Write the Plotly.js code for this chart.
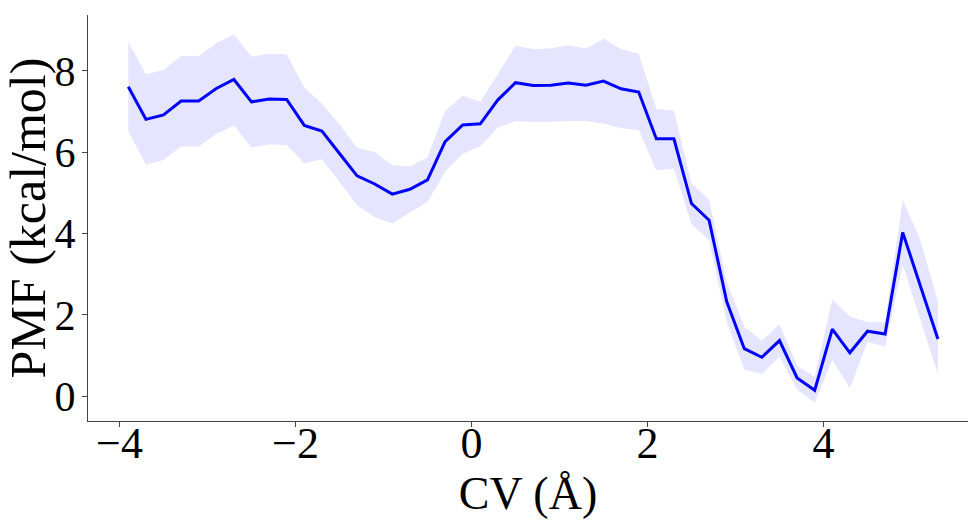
<!DOCTYPE html>
<html>
<head>
<meta charset="utf-8">
<script src="https://cdn.plot.ly/plotly-3.0.1.min.js"></script>
<style>html,body{margin:0;padding:0;background:#fff;}#chart{width:968px;height:522px;}</style>
</head>
<body>
<div id="chart"></div>
<script>
const cv = [-3.9,-3.7,-3.5,-3.3,-3.1,-2.9,-2.7,-2.5,-2.3,-2.1,-1.9,-1.7,-1.5,-1.3,-1.1,-0.9,
  -0.7,-0.5,-0.3,-0.1,0.1,0.3,0.5,0.7,0.9,1.1,1.3,1.5,1.7,1.9,2.1,2.3,2.5,2.7,2.9,3.1,3.3,3.5,3.7,3.9,
  4.1,4.3,4.5,4.7,4.9,5.1,5.3];
const pmf = [7.61,6.81,6.92,7.26,7.26,7.57,7.79,7.24,7.31,7.30,6.66,6.52,5.97,5.42,5.22,4.97,
  5.09,5.32,6.26,6.67,6.70,7.29,7.71,7.64,7.65,7.70,7.65,7.75,7.56,7.48,6.33,6.33,4.74,4.33,2.33,1.17,0.96,1.37,0.45,0.15,
  1.65,1.07,1.60,1.53,4.03,2.74,1.41];
const upper = [8.72,7.92,8.02,8.37,8.37,8.68,8.90,8.35,8.42,8.41,7.59,7.20,6.69,6.11,6.00,5.69,
  5.65,5.88,7.02,7.39,7.24,7.94,8.62,8.54,8.55,8.63,8.55,8.79,8.54,8.42,7.07,7.03,5.24,4.83,2.82,1.71,1.37,1.78,0.75,0.48,
  2.38,1.96,1.83,1.82,4.83,3.84,2.33];
const lower = [6.51,5.70,5.81,6.14,6.14,6.45,6.66,6.12,6.19,6.18,5.73,5.83,5.27,4.70,4.40,4.25,
  4.52,4.78,5.52,5.96,6.15,6.61,6.77,6.74,6.75,6.77,6.77,6.71,6.59,6.55,5.55,5.60,4.23,3.83,1.83,0.66,0.55,0.97,0.17,-0.16,
  0.89,0.20,1.34,1.22,3.23,1.88,0.55];
const xTicks = [-4,-2,0,2,4];
const yTicks = [0,2,4,6,8];

const fontFam = '"Liberation Serif", "DejaVu Serif", serif';
const traces = [
  {x: cv, y: lower, mode: 'lines', line: {width: 0, color: 'rgba(0,0,255,0)'}, hoverinfo: 'skip', showlegend: false},
  {x: cv, y: upper, mode: 'lines', line: {width: 0, color: 'rgba(0,0,255,0)'}, fill: 'tonexty', fillcolor: 'rgba(0,0,255,0.1)', hoverinfo: 'skip', showlegend: false},
  {x: cv, y: pmf, mode: 'lines', line: {width: 3, color: '#0000ff'}, showlegend: false}
];
const layout = {
  width: 968, height: 522,
  margin: {l: 88, r: 0, t: 15, b: 101},
  paper_bgcolor: '#fff', plot_bgcolor: '#fff',
  font: {family: fontFam, color: '#000'},
  xaxis: {
    range: [-4.358, 5.642], tickvals: xTicks, ticks: 'outside', ticklen: 5, tickcolor: '#444',
    showgrid: false, zeroline: false, showline: true, linecolor: '#444', linewidth: 1,
    tickfont: {size: 44, family: fontFam}, ticklabelstandoff: -22,
    title: {text: 'CV (Å)', font: {size: 46, family: fontFam}, standoff: 8}
  },
  yaxis: {
    range: [-0.607, 9.375], tickvals: yTicks, ticks: 'outside', ticklen: 5, tickcolor: '#444',
    showgrid: false, zeroline: false, showline: true, linecolor: '#444', linewidth: 1,
    tickfont: {size: 42, family: fontFam}, ticklabelstandoff: -2,
    title: {text: 'PMF (kcal/mol)', font: {size: 50, family: fontFam}, standoff: 6}
  }
};
Plotly.newPlot('chart', traces, layout, {staticPlot: true, displayModeBar: false});
</script>
</body>
</html>
